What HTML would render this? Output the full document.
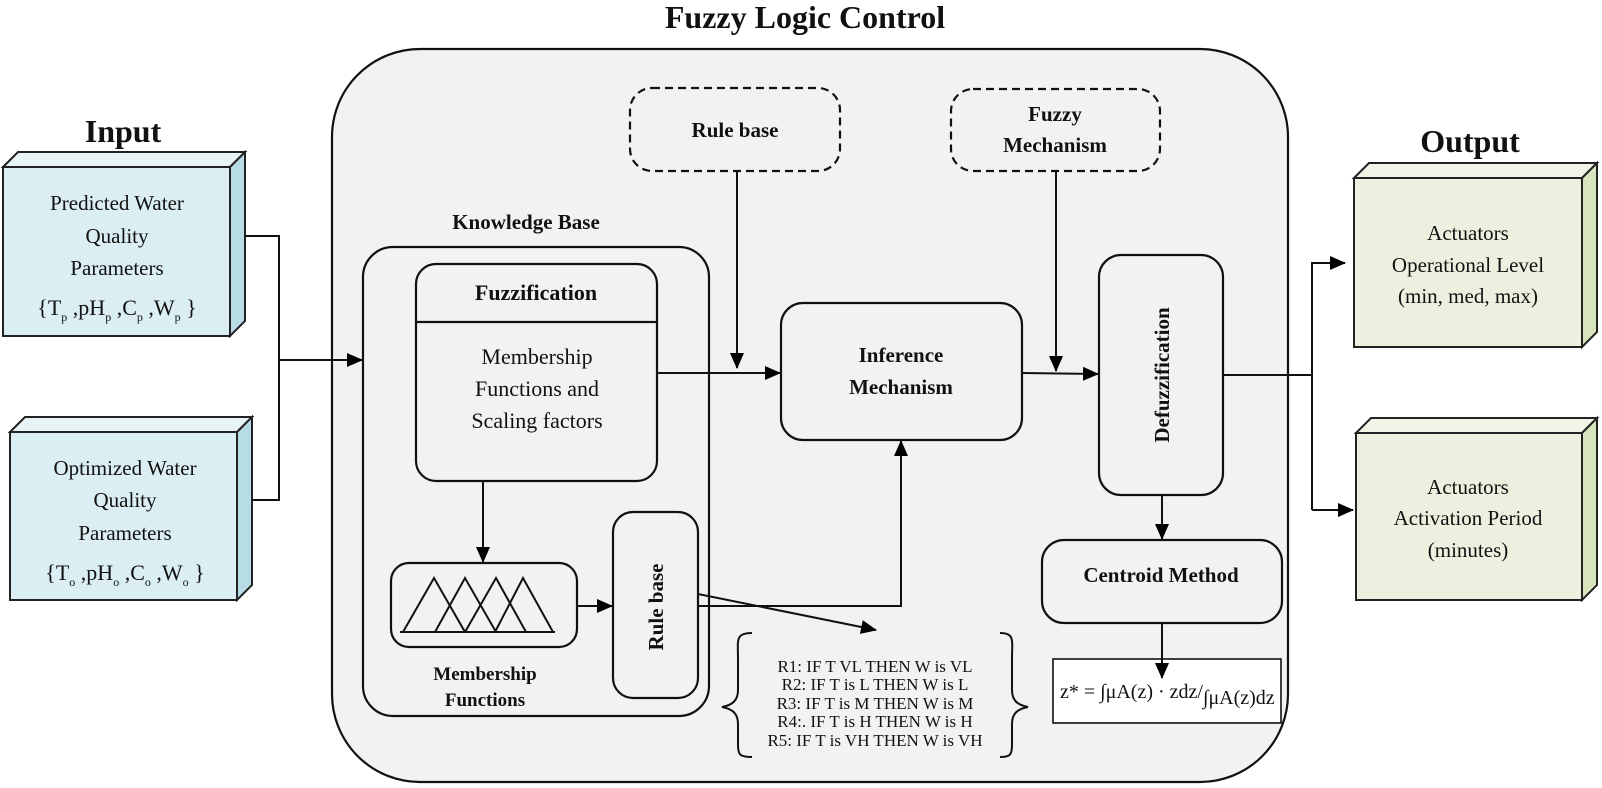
<!DOCTYPE html>
<html><head><meta charset="utf-8"><style>
html,body{margin:0;padding:0;background:#fff;}
svg{display:block;}
text{font-family:"Liberation Serif",serif;fill:#111;}
.b{font-weight:bold;}
</style></head><body>
<svg width="1602" height="788" viewBox="0 0 1602 788" xmlns="http://www.w3.org/2000/svg">
<defs>
<marker id="ar" markerWidth="16" markerHeight="14" refX="15" refY="7" orient="auto" markerUnits="userSpaceOnUse" viewBox="0 0 16 14">
<path d="M0,0 L16,7 L0,14 z" fill="#000"/></marker>
</defs>
<g stroke="#111" stroke-width="2.2" fill="none">
<rect x="332" y="49" width="956" height="733" rx="88" fill="#f2f2f2"/>
</g>
<text x="805" y="28" font-size="32" class="b" text-anchor="middle">Fuzzy Logic Control</text>
<text x="123" y="142" font-size="32" class="b" text-anchor="middle">Input</text>
<text x="1470" y="152" font-size="32" class="b" text-anchor="middle">Output</text>

<g stroke="#222" stroke-width="2">
<polygon points="3,167 18,152 245,152 230,167" fill="#e6f3f7"/>
<polygon points="230,167 245,152 245,321 230,336" fill="#b7dce6"/>
<rect x="3" y="167" width="227" height="169" fill="#daeef4"/>
<polygon points="10,432 25,417 252,417 237,432" fill="#e6f3f7"/>
<polygon points="237,432 252,417 252,585 237,600" fill="#b7dce6"/>
<rect x="10" y="432" width="227" height="168" fill="#daeef4"/>
<polygon points="1354,178 1369,163 1597,163 1582,178" fill="#f1f5e8"/>
<polygon points="1582,178 1597,163 1597,332 1582,347" fill="#d7e4bc"/>
<rect x="1354" y="178" width="228" height="169" fill="#ebf1de"/>
<polygon points="1356,433 1371,418 1597,418 1582,433" fill="#f1f5e8"/>
<polygon points="1582,433 1597,418 1597,585 1582,600" fill="#d7e4bc"/>
<rect x="1356" y="433" width="226" height="167" fill="#ebf1de"/>
</g>
<g font-size="21" text-anchor="middle">
<text x="117" y="210">Predicted Water</text>
<text x="117" y="243">Quality</text>
<text x="117" y="275">Parameters</text>
<text x="117" y="315" font-size="22">{T<tspan font-size="12" dy="6">p</tspan><tspan dy="-6"> ,pH</tspan><tspan font-size="12" dy="6">p</tspan><tspan dy="-6"> ,C</tspan><tspan font-size="12" dy="6">p</tspan><tspan dy="-6"> ,W</tspan><tspan font-size="12" dy="6">p</tspan><tspan dy="-6"> }</tspan></text>
<text x="125" y="475">Optimized Water</text>
<text x="125" y="507">Quality</text>
<text x="125" y="540">Parameters</text>
<text x="125" y="580" font-size="22">{T<tspan font-size="12" dy="6">o</tspan><tspan dy="-6"> ,pH</tspan><tspan font-size="12" dy="6">o</tspan><tspan dy="-6"> ,C</tspan><tspan font-size="12" dy="6">o</tspan><tspan dy="-6"> ,W</tspan><tspan font-size="12" dy="6">o</tspan><tspan dy="-6"> }</tspan></text>
<text x="1468" y="240">Actuators</text>
<text x="1468" y="272">Operational Level</text>
<text x="1468" y="303">(min, med, max)</text>
<text x="1468" y="494">Actuators</text>
<text x="1468" y="525">Activation Period</text>
<text x="1468" y="557">(minutes)</text>
</g>

<g stroke="#111" stroke-width="2.2" fill="none">
<rect x="363" y="247" width="346" height="469" rx="30"/>
<rect x="416" y="264" width="241" height="217" rx="20"/>
<line x1="416" y1="322" x2="657" y2="322"/>
<rect x="391" y="563" width="186" height="84" rx="18"/>
<rect x="613" y="512" width="85" height="186" rx="20"/>
<rect x="630" y="88" width="210" height="83" rx="22" stroke-dasharray="8,5"/>
<rect x="951" y="89" width="209" height="82" rx="22" stroke-dasharray="8,5"/>
<rect x="781" y="303" width="241" height="137" rx="22"/>
<rect x="1099" y="255" width="124" height="240" rx="22"/>
<rect x="1042" y="540" width="240" height="83" rx="22"/>
<rect x="1053" y="659" width="228" height="64" fill="#fff" stroke-width="1.6"/>
<g stroke-width="2">
<line x1="400" y1="632" x2="555" y2="632"/>
<polyline points="403,632 434,578 465,632"/>
<polyline points="435,632 465,578 496,632"/>
<polyline points="465,632 496,578 526,632"/>
<polyline points="495,632 523,578 553,632"/>
</g>
<path d="M752,633 C735,633 738,640 738,660 L738,690 C738,700 733,705 722,707 C733,709 738,714 738,724 L738,745 C738,755 740,757 752,757" stroke-width="2"/>
<path d="M1000,633 C1015,633 1012,640 1012,660 L1012,690 C1012,700 1017,705 1028,707 C1017,709 1012,714 1012,724 L1012,745 C1012,755 1010,757 1000,757" stroke-width="2"/>
</g>

<g stroke="#111" stroke-width="2" fill="none">
<polyline points="245,236 279,236 279,500 252,500"/>
<line x1="279" y1="360" x2="362" y2="360" marker-end="url(#ar)"/>
<line x1="657" y1="373" x2="780" y2="373" marker-end="url(#ar)"/>
<line x1="737" y1="171" x2="737" y2="368" marker-end="url(#ar)"/>
<line x1="483" y1="481" x2="483" y2="562" marker-end="url(#ar)"/>
<line x1="577" y1="606" x2="612" y2="606" marker-end="url(#ar)"/>
<polyline points="698,606 901,606 901,441" marker-end="url(#ar)"/>
<line x1="698" y1="594" x2="876" y2="630" marker-end="url(#ar)"/>
<line x1="1022" y1="373" x2="1098" y2="374" marker-end="url(#ar)"/>
<line x1="1056" y1="171" x2="1056" y2="371" marker-end="url(#ar)"/>
<line x1="1162" y1="495" x2="1162" y2="539" marker-end="url(#ar)"/>
<line x1="1162" y1="623" x2="1162" y2="678" marker-end="url(#ar)"/>
<line x1="1223" y1="375" x2="1312" y2="375"/>
<polyline points="1312,510 1312,263 1345,263" marker-end="url(#ar)"/>
<line x1="1312" y1="510" x2="1353" y2="510" marker-end="url(#ar)"/>
</g>

<g class="b" text-anchor="middle">
<text x="735" y="137" font-size="21">Rule base</text>
<text x="1055" y="121" font-size="21">Fuzzy</text>
<text x="1055" y="152" font-size="21">Mechanism</text>
<text x="526" y="229" font-size="21">Knowledge Base</text>
<text x="536" y="300" font-size="22">Fuzzification</text>
<text x="901" y="362" font-size="21">Inference</text>
<text x="901" y="394" font-size="21">Mechanism</text>
<text x="1161" y="582" font-size="21">Centroid Method</text>
<text x="485" y="680" font-size="19">Membership</text>
<text x="485" y="706" font-size="19">Functions</text>
<text transform="translate(1169,375) rotate(-90)" font-size="21">Defuzzification</text>
<text transform="translate(663,607) rotate(-90)" font-size="21">Rule base</text>
</g>
<g font-size="22" text-anchor="middle">
<text x="537" y="364">Membership</text>
<text x="537" y="396">Functions and</text>
<text x="537" y="428">Scaling factors</text>
</g>
<g font-size="17" text-anchor="middle">
<text x="875" y="672">R1:  IF  T VL  THEN W is VL</text>
<text x="875" y="690">R2:  IF  T is L  THEN W is L</text>
<text x="875" y="709">R3:  IF  T is M THEN W is M</text>
<text x="875" y="727">R4:.  IF  T is H THEN W is H</text>
<text x="875" y="746">R5:  IF  T is VH THEN W is VH</text>
</g>
<text x="1060" y="698" font-size="20" fill="#333">z* = ∫μA(z) · zdz/<tspan dy="6">∫μA(z)dz</tspan></text>
</svg>
</body></html>
